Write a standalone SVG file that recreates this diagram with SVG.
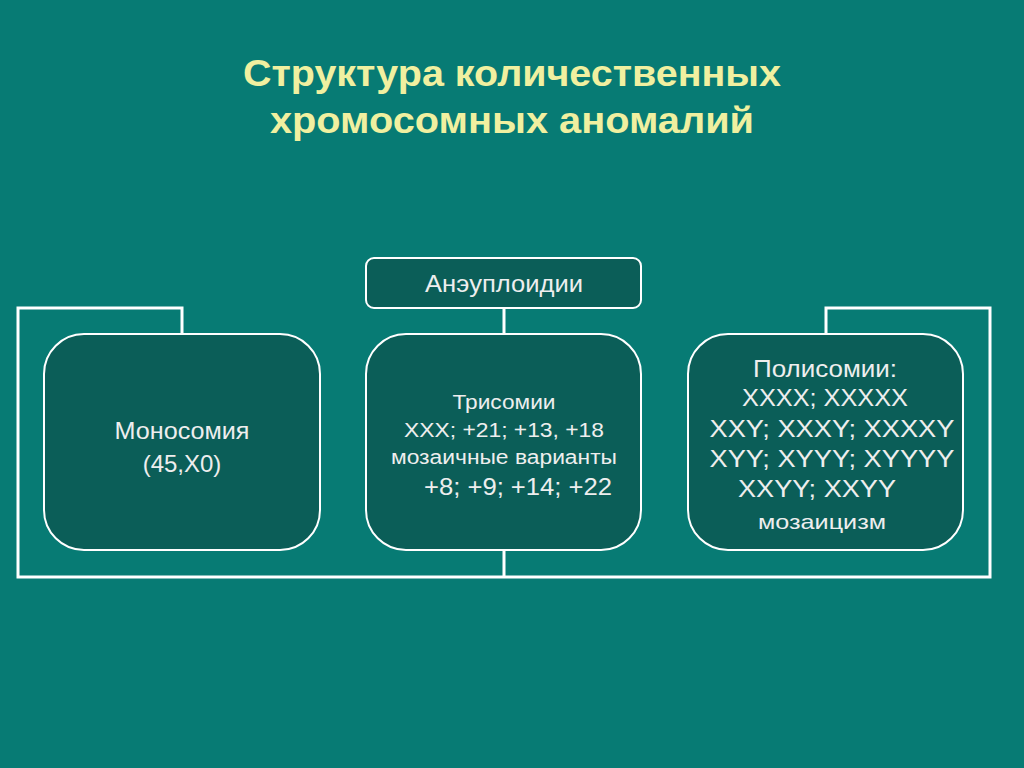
<svg xmlns="http://www.w3.org/2000/svg" width="1024" height="768" viewBox="0 0 1024 768">
<style>
.n{fill:#0b5e58;stroke:#fff;stroke-width:2}
.t{font-family:"Liberation Sans",Arial,sans-serif;fill:#eeeeee;text-anchor:middle}
.c{fill:none;stroke:#fff;stroke-width:3}
</style>
<rect width="1024" height="768" fill="#077b74"/>
<g class="t" style="fill:#f0f0a0;font-weight:bold;font-size:36px">
<text x="512" y="86" textLength="538" lengthAdjust="spacingAndGlyphs">Структура количественных</text>
<text x="512" y="133" textLength="484" lengthAdjust="spacingAndGlyphs">хромосомных аномалий</text>
</g>
<g id="connectors" class="c">
<path d="M504 308V334M182 334V308H18V577H990V308H826V334M504 550V577"/>
</g>
<g id="aneu"><rect class="n" x="366" y="258" width="275" height="50" rx="8"/><text class="t" x="504" y="292" font-size="23" textLength="158" lengthAdjust="spacingAndGlyphs">Анэуплоидии</text></g>
<g id="mono"><rect class="n" x="44" y="334" width="276" height="216" rx="40"/>
<text class="t" x="182" y="439" font-size="24" textLength="135" lengthAdjust="spacingAndGlyphs">Моносомия</text><text class="t" x="182" y="472" font-size="24">(45,X0)</text></g>
<g id="tri"><rect class="n" x="366" y="334" width="275" height="216" rx="40"/>
<text class="t" x="504" y="409" font-size="20" textLength="103" lengthAdjust="spacingAndGlyphs">Трисомии</text>
<text class="t" x="504" y="437" font-size="20" textLength="200" lengthAdjust="spacingAndGlyphs">XXX; +21; +13, +18</text>
<text class="t" x="504" y="464" font-size="20" textLength="226" lengthAdjust="spacingAndGlyphs">мозаичные варианты</text>
<text class="t" x="518" y="495" font-size="23" textLength="188" lengthAdjust="spacingAndGlyphs">+8; +9; +14; +22</text></g>
<g id="poly"><rect class="n" x="688" y="334" width="275" height="216" rx="40"/>
<text class="t" x="825" y="377" font-size="24" textLength="144" lengthAdjust="spacingAndGlyphs">Полисомии:</text>
<text class="t" x="825" y="406" font-size="24" textLength="166" lengthAdjust="spacingAndGlyphs">XXXX; XXXXX</text>
<text class="t" x="832" y="437" font-size="24" textLength="245" lengthAdjust="spacingAndGlyphs">XXY; XXXY; XXXXY</text>
<text class="t" x="832" y="467" font-size="24" textLength="245" lengthAdjust="spacingAndGlyphs">XYY; XYYY; XYYYY</text>
<text class="t" x="817" y="497" font-size="24" textLength="158" lengthAdjust="spacingAndGlyphs">XXYY; XXYY</text>
<text class="t" x="822" y="529" font-size="21" textLength="128" lengthAdjust="spacingAndGlyphs">мозаицизм</text></g>
</svg>
